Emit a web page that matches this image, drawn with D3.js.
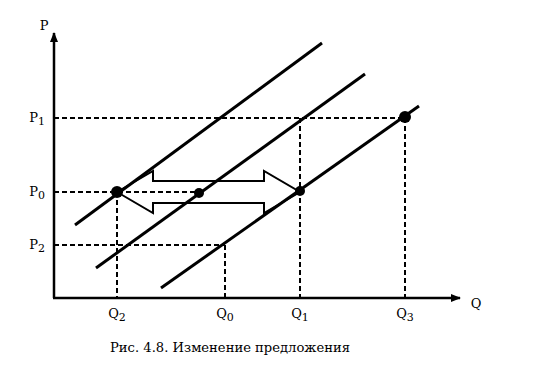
<!DOCTYPE html>
<html><head><meta charset="utf-8">
<script src="https://cdn.jsdelivr.net/npm/d3@7"></script>
<style>body{margin:0;background:#fff}svg{display:block}</style>
</head><body>
<svg id="c" width="538" height="365"></svg>
<script>
// --- data (arbitrary price / quantity units) ---
const qLabels = ["2", "0", "1", "3"];          // subscripts of Q ticks
const qValues = [6.3, 17.1, 24.6, 35.1];
const pLabels = ["1", "0", "2"];
const pValues = [18.0, 10.6, 5.3];
// supply curves
const supplyNames = ["S2", "S0", "S1"];
const supplyStart = [[2.1, 7.3], [4.2, 3.0], [10.7, 1.0]];
const supplyEnd   = [[26.8, 25.5], [31.1, 22.4], [36.5, 19.2]];
// equilibrium points
const pointQ = [6.3, 14.5, 24.6, 35.1];
const pointP = [10.6, 10.5, 10.7, 18.1];
const pointR = [6, 5, 5, 6];
// dashed guides: [q0,p0,q1,p1]
const guides = [
  [0, 18.0, 35.1, 18.0], [24.6, 18.0, 24.6, 0], [35.1, 18.0, 35.1, 0],
  [0, 10.6, 14.5, 10.6], [6.3, 10.6, 6.3, 0],
  [0, 5.3, 17.1, 5.3], [17.1, 5.3, 17.1, 0]
];
const caption = "Рис. 4.8. Изменение предложения";

const svg = d3.select("#c");
const x = d3.scaleLinear().domain([0, 40.6]).range([54, 460]);
const y = d3.scaleLinear().domain([0, 26.5]).range([298, 33]);
const serif = "DejaVu Serif, Liberation Serif, serif";

// dashed guides
svg.append("g").selectAll("line").data(guides).join("line")
  .attr("x1", d => x(d[0])).attr("y1", d => y(d[1]))
  .attr("x2", d => x(d[2])).attr("y2", d => y(d[3]))
  .attr("stroke", "#000").attr("stroke-width", 2).attr("stroke-dasharray", "5,3");

// double arrow (shift)
const aL = 6.3, aR = 24.6, aP = 10.6, shaft = 1.1, head = 2.1, headLen = 3.6;
const arrowPts = [
  [aL, aP], [aL + headLen, aP + head], [aL + headLen, aP + shaft],
  [aR - headLen, aP + shaft], [aR - headLen, aP + head], [aR, aP],
  [aR - headLen, aP - head], [aR - headLen, aP - shaft],
  [aL + headLen, aP - shaft], [aL + headLen, aP - head], [aL, aP]
];
svg.append("path")
  .attr("d", d3.line().x(d => x(d[0])).y(d => y(d[1]))(arrowPts))
  .attr("fill", "none").attr("stroke", "#000").attr("stroke-width", 2)
  .attr("stroke-linejoin", "miter");

// supply curves
svg.append("g").selectAll("line").data(supplyNames).join("line")
  .attr("x1", (d, i) => x(supplyStart[i][0])).attr("y1", (d, i) => y(supplyStart[i][1]))
  .attr("x2", (d, i) => x(supplyEnd[i][0])).attr("y2", (d, i) => y(supplyEnd[i][1]))
  .attr("stroke", "#000").attr("stroke-width", 3);

// points
svg.append("g").selectAll("circle").data(pointQ).join("circle")
  .attr("cx", d => x(d)).attr("cy", (d, i) => y(pointP[i])).attr("r", (d, i) => pointR[i])
  .attr("fill", "#000");

// axes
const defs = svg.append("defs");
defs.append("marker").attr("id", "ah").attr("viewBox", "0 0 10 10")
  .attr("refX", 9).attr("refY", 5).attr("markerWidth", 4).attr("markerHeight", 4)
  .attr("markerUnits", "strokeWidth").attr("orient", "auto")
  .append("path").attr("d", "M0,1L10,5L0,9Z").attr("fill", "#000");
svg.append("line").attr("x1", x(0)).attr("y1", y(0)).attr("x2", x(0)).attr("y2", y(26.5))
  .attr("stroke", "#000").attr("stroke-width", 2.5).attr("marker-end", "url(#ah)");
svg.append("line").attr("x1", x(0) - 1).attr("y1", y(0)).attr("x2", x(40.6)).attr("y2", y(0))
  .attr("stroke", "#000").attr("stroke-width", 2.5).attr("marker-end", "url(#ah)");

// axis titles
svg.append("text").attr("x", 44).attr("y", 30).attr("text-anchor", "middle")
  .attr("font-family", serif).attr("font-size", 13).text("P");
svg.append("text").attr("x", 476).attr("y", 308).attr("text-anchor", "middle")
  .attr("font-family", serif).attr("font-size", 13).text("Q");

// tick labels
function sub(sel, base, s) {
  sel.append("tspan").text(base);
  sel.append("tspan").attr("font-size", 11).attr("dy", 3).text(s);
}
svg.append("g").selectAll("text").data(qValues).join("text")
  .attr("x", d => x(d)).attr("y", 318).attr("text-anchor", "middle")
  .attr("font-family", serif).attr("font-size", 13)
  .each(function (d, i) { sub(d3.select(this), "Q", qLabels[i]); });
svg.append("g").selectAll("text").data(pValues).join("text")
  .attr("x", 37).attr("y", d => y(d) + 4).attr("text-anchor", "middle")
  .attr("font-family", serif).attr("font-size", 13)
  .each(function (d, i) { sub(d3.select(this), "P", pLabels[i]); });

// caption
svg.append("text").attr("x", 110).attr("y", 352)
  .attr("font-family", serif).attr("font-size", 13)
  .attr("textLength", 240).attr("lengthAdjust", "spacingAndGlyphs").text(caption);
</script>
</body></html>
